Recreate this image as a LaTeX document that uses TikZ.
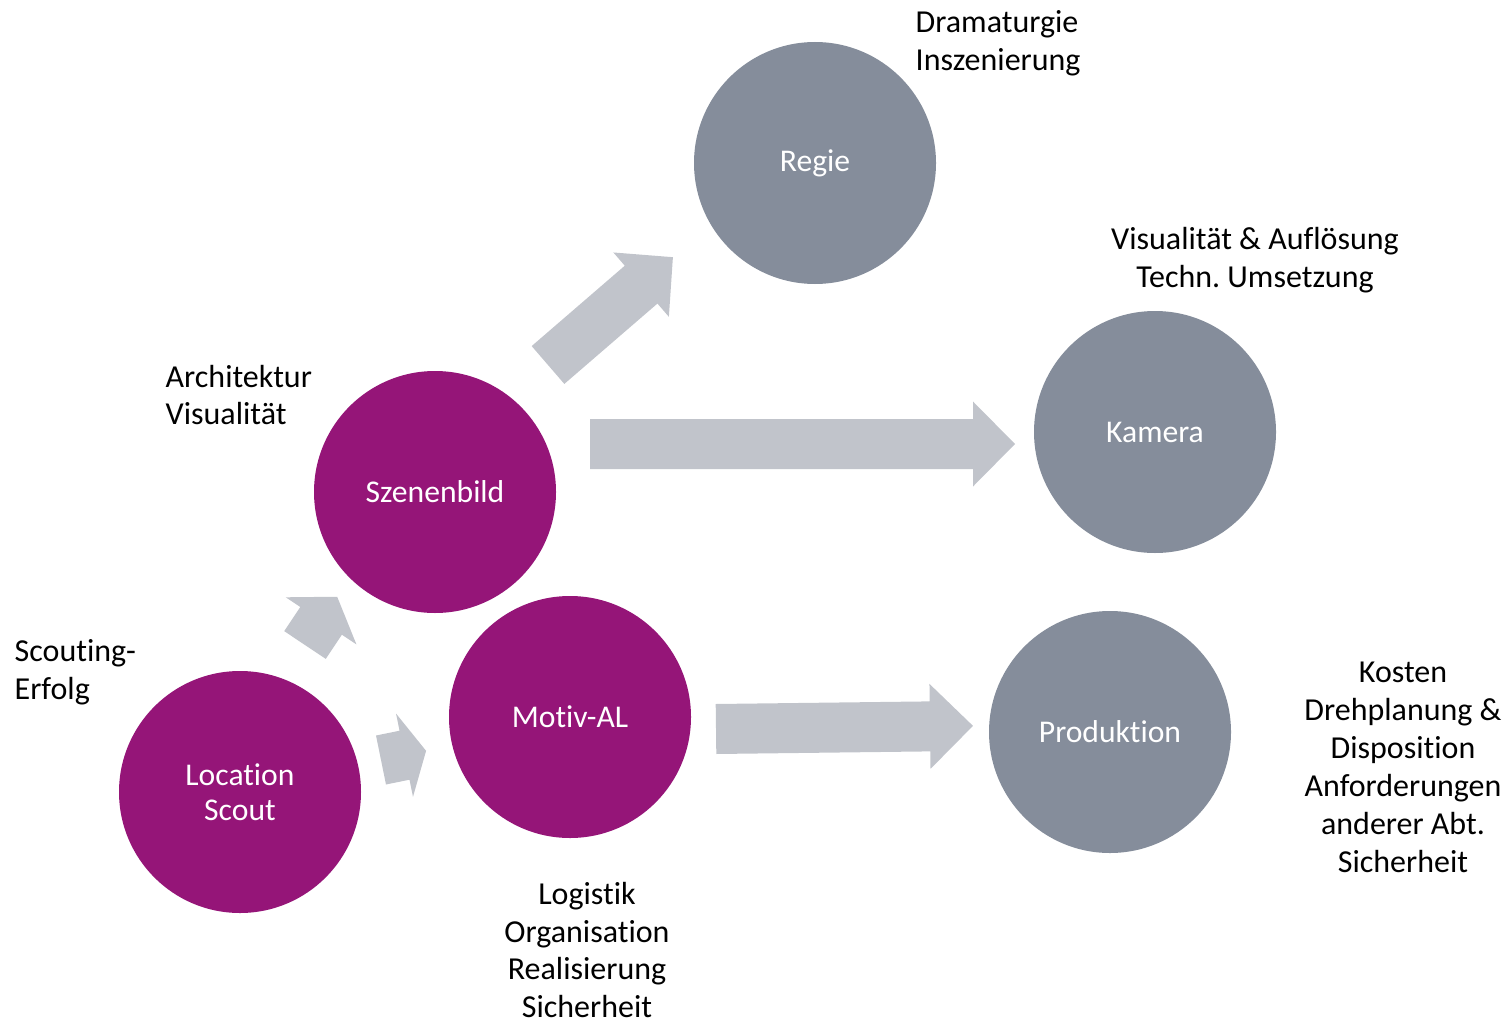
\documentclass[tikz,border=0pt]{standalone}
\usepackage{fontspec}
\setmainfont{Carlito}[Ligatures=NoCommon]
\usepackage{xcolor}
\definecolor{SetPurple}{HTML}{951578}
\definecolor{DeptGrey}{HTML}{858D9B}
\definecolor{ArrowGrey}{HTML}{C1C4CB}
\usetikzlibrary{calc}
\frenchspacing
\def\ShaftHalf{0.25}
\def\HeadHalf{0.425}
% block arrow: tail coordinate, angle, length, head length
\newcommand\blockArrow[4]{
	\fill[ArrowGrey,shift={(#1)},rotate=#2] (0,-\ShaftHalf) -- ({#3-#4},-\ShaftHalf) -- ({#3-#4},-\HeadHalf) -- (#3,0) -- ({#3-#4},\HeadHalf) -- ({#3-#4},\ShaftHalf) -- (0,\ShaftHalf) -- cycle;
}

\begin{document}
\begin{tikzpicture}[dept/.style={circle,minimum size=2.42cm,inner sep=0,text=white,align=center,font=\fontsize{9}{10}\selectfont},
	note/.style={inner sep=0,font=\fontsize{9.1}{10.8}\selectfont}]
	
	\useasboundingbox (0,0) rectangle (15.10,-10.22);
	
	%% DEPARTMENTS
	\node[dept,fill=SetPurple] (scout) at (2.40,-7.92) {Location\\Scout};
	\node[dept,fill=SetPurple] (szene) at (4.35,-4.92) {Szenenbild};
	\node[dept,fill=SetPurple] (motiv) at (5.70,-7.17) {Motiv-AL};
	\node[dept,fill=DeptGrey] (regie) at (8.15,-1.63) {Regie};
	\node[dept,fill=DeptGrey] (kamera) at (11.55,-4.32) {Kamera};
	\node[dept,fill=DeptGrey] (prod) at (11.10,-7.32) {Produktion};
	
	%% NOTES
	\node[note,anchor=west,align=left] (nRegie) at (9.15,-0.43) {Dramaturgie\\Inszenierung};
	\node[note,align=center] (nKamera) at (12.55,-2.60) {Visualität \& Auflösung\\Techn. Umsetzung};
	\node[note,anchor=west,align=left] (nSzene) at (1.65,-3.95) {Architektur\\Visualität};
	\node[note,anchor=west,align=left] (nScout) at (0.14,-6.72) {Scouting-\\Erfolg};
	\node[note,align=center] (nMotiv) at (5.87,-9.50) {Logistik\\Organisation\\Realisierung\\Sicherheit};
	\node[note,align=center] (nProd) at (14.03,-7.67) {Kosten\\Drehplanung \&\\Disposition\\Anforderungen\\anderer Abt.\\Sicherheit};
	
	%% ARROWS
	\coordinate (aScoutSzene) at (3.05,-6.45);
	\coordinate (aScoutMotiv) at (3.81,-7.60);
	\coordinate (aSzeneRegie) at (5.48,-3.65);
	\coordinate (aSzeneKamera) at (5.90,-4.44);
	\coordinate (aMotivProd) at (7.16,-7.29);
	
	\blockArrow{aScoutSzene}{56.3}{0.58}{0.29}
	\blockArrow{aScoutMotiv}{11.5}{0.46}{0.22}
	\blockArrow{aSzeneRegie}{40.8}{1.65}{0.42}
	\blockArrow{aSzeneKamera}{0}{4.25}{0.42}
	\blockArrow{aMotivProd}{0.7}{2.57}{0.43}
	
\end{tikzpicture}
\end{document}
